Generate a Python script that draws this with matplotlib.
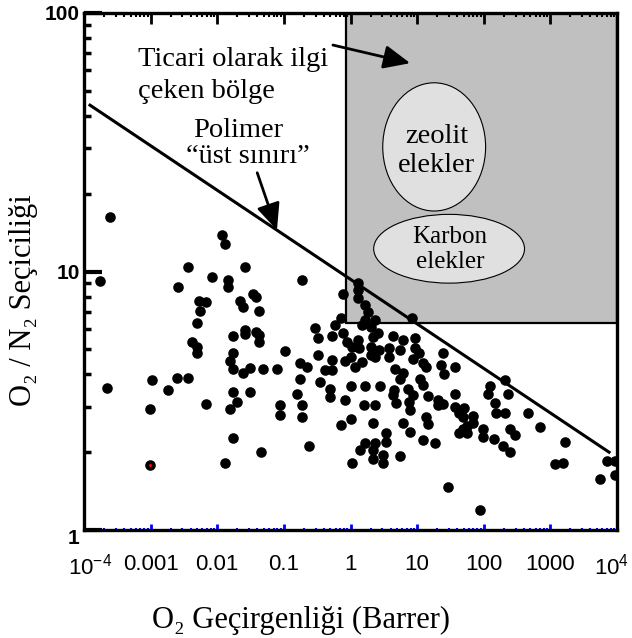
import matplotlib.pyplot as plt
import numpy as np
from matplotlib.patches import Rectangle, Ellipse
from matplotlib.transforms import ScaledTranslation

plt.rcParams['mathtext.fontset'] = 'custom'
plt.rcParams['mathtext.rm'] = 'Liberation Sans'
plt.rcParams['mathtext.it'] = 'Liberation Sans:italic'

# O2 permeability (Barrer) and O2/N2 selectivity
perm = [
    2.45e-4, 1.74e-4, 2.2e-4, 9.8e-4, 0.00105, 0.00183, 0.0025, 0.0037, 0.0067,
    0.0026, 0.0037, 0.0084, 0.0119, 0.0132, 0.0264, 0.0144, 0.0144,
    0.0054, 0.0068, 0.0055, 0.005, 0.0222, 0.0242, 0.0342, 0.0379, 0.0429,
    0.0042, 0.005, 0.005, 0.0175, 0.0264, 0.0264, 0.0379, 0.0429, 0.0429,
    0.0171, 0.0157, 0.0175, 0.0242, 0.0308, 0.049, 0.0171, 0.0308, 0.02,
    0.0157, 0.0171, 0.046, 0.0132,
    0.19, 0.77, 1.3, 1.3, 1.3, 1.65, 1.8, 0.71, 1.65, 2.3, 8.5, 0.59, 1.51,
    2.0, 0.29, 0.77, 0.536, 0.324, 2.6, 2.14, 4.28, 6.05, 9.16, 0.9, 1.3,
    1.07, 1.32, 2.0, 2.64, 3.72, 5.55, 2.0, 2.3, 3.72, 9.16, 10.5, 8.55,
    24.2, 0.105, 0.324, 0.536, 1.0, 0.84, 1.51, 0.174, 0.225, 0.08, 0.42,
    0.536, 1.15, 4.59, 6.05, 12.1, 13.4, 22.6, 5.46, 25.0, 0.174, 0.354,
    10.9, 12.1, 1.0, 1.65, 2.73, 0.5, 0.5, 4.43, 7.2, 4.28, 8.55, 14.4,
    4.75, 7.45, 0.16, 0.84, 20.3, 20.7, 0.0885, 0.19, 1.62, 2.3, 7.7,
    0.0885, 0.19, 1.0, 0.71, 2.14, 6.05, 13.4, 14.4, 7.7, 3.36, 3.36, 1.65,
    2.3, 12.1, 18.3, 0.24, 1.41, 2.14, 3.03, 2.14, 3.03, 1.07, 5.46,
    36.6, 211, 123, 115, 230, 36.6, 24.2, 36.6, 50, 42, 48, 68, 150, 154,
    211, 459, 57, 70, 49, 42, 57, 98, 97, 141, 246, 292, 695, 193, 246,
    1650, 1170, 1540, 7080, 9330, 5550, 9330, 28.8, 87,
]
sel = [
    16.3, 9.15, 3.55, 2.94, 3.81, 3.49, 3.88, 3.88, 3.08,
    8.7, 10.4, 9.5, 13.8, 12.8, 10.4, 9.3, 8.7,
    7.7, 7.6, 7.06, 6.3, 7.7, 7.3, 8.15, 8.0, 7.06,
    5.35, 5.12, 4.85, 5.65, 5.96, 5.75, 5.85, 5.7, 5.35,
    4.85, 4.52, 4.2, 4.06, 4.25, 4.2, 3.43, 3.43, 3.13,
    2.94, 2.27, 2.0, 1.82,
    9.3, 8.2, 9.06, 8.5, 7.93, 7.45, 7.0, 6.63, 6.52, 6.52, 6.58, 6.23, 6.23,
    6.12, 6.06, 5.8, 5.65, 5.55, 5.8, 5.6, 5.65, 5.45, 5.55, 5.35, 5.45,
    5.12, 5.08, 5.12, 4.98, 5.08, 4.98, 4.77, 4.68, 4.68, 5.08, 4.85, 4.6,
    4.85, 4.94, 4.77, 4.56, 4.68, 4.52, 4.48, 4.44, 4.28, 4.2, 4.17,
    4.17, 4.28, 4.2, 4.06, 4.44, 4.28, 4.36, 3.85, 4.0, 3.85, 3.75,
    3.85, 3.65, 3.61, 3.61, 3.61, 3.52, 3.28, 3.49, 3.52, 3.34, 3.34, 3.31,
    3.1, 3.13, 3.37, 3.19, 3.19, 3.05, 3.05, 3.05, 3.05, 3.05, 2.92,
    2.79, 2.74, 2.69, 2.55, 2.6, 2.6, 2.74, 2.58, 2.4, 2.38, 2.19, 2.17,
    2.17, 2.23, 2.17, 2.12, 2.04, 2.04, 1.95, 1.88, 1.82, 1.82, 1.94,
    4.28, 3.81, 3.61, 3.37, 3.37, 3.37, 3.08, 3.0, 2.97, 2.84, 2.74, 2.77, 3.1, 2.84,
    2.84, 2.84, 2.53, 2.6, 2.46, 2.38, 2.38, 2.46, 2.29, 2.25, 2.46, 2.33, 2.51, 2.12, 2.0,
    2.19, 1.8, 1.82, 1.85, 1.85, 1.58, 1.63, 1.47, 1.19,
]
# the one point with a red centre
red_perm = [9.8e-4]
red_sel = [1.79]

# polymer upper bound
bound_perm = [1.23e-4, 7600]
bound_sel = [44, 2.0]

# commercially attractive region
box_perm = [0.87, 1e4]
box_sel = [6.3, 100]

xticks = [1e-4, 1e-3, 1e-2, 1e-1, 1, 10, 100, 1000, 1e4]
xtick_labels = ['10$^{-4}$', '0.001', '0.01', '0.1', '1', '10', '100', '1000', '10$^{4}$']
yticks = [1, 10, 100]
ytick_labels = ['1', '10', '100']

serif = ['Liberation Serif', 'DejaVu Serif']

fig = plt.figure(figsize=(6.32, 6.38), dpi=100)
ax = fig.add_axes([84 / 632, 108 / 638, 533 / 632, 517 / 638])
ax.set_xscale('log')
ax.set_yscale('log')
ax.set_xlim(1e-4, 1e4)
ax.set_ylim(1, 100)

ax.add_patch(Rectangle((box_perm[0], box_sel[0]), box_perm[1] - box_perm[0],
                       box_sel[1] - box_sel[0], facecolor='#c0c0c0',
                       edgecolor='black', lw=1.6, zorder=1))

# ellipses in axes fraction so they stay round on log axes
ax.add_patch(Ellipse((0.657, 0.741), 0.193, 0.248, transform=ax.transAxes,
                     facecolor='#e0e0e0', edgecolor='black', lw=0.8, zorder=2))
ax.add_patch(Ellipse((0.685, 0.544), 0.283, 0.133, transform=ax.transAxes,
                     facecolor='#e0e0e0', edgecolor='black', lw=0.8, zorder=2))

ax.plot(bound_perm, bound_sel, color='black', lw=2.2, zorder=3)
ax.scatter(perm, sel, s=58, color='black', zorder=4, linewidths=0)
ax.scatter(red_perm, red_sel, s=58, color='black', zorder=4, linewidths=0)
ax.scatter(red_perm, red_sel, s=5, color='red', zorder=5, linewidths=0)

# text
ax.text(0.101, 0.897, 'Ticari olarak ilgi', transform=ax.transAxes, fontsize=20.5,
        family=serif, ha='left', va='baseline')
ax.text(0.101, 0.836, 'çeken bölge', transform=ax.transAxes, fontsize=20.5,
        family=serif, ha='left', va='baseline')
ax.text(0.289, 0.760, 'Polimer', transform=ax.transAxes, fontsize=20.5,
        family=serif, ha='center', va='baseline')
ax.text(0.308, 0.710, '\u201c\u00fcst s\u0131n\u0131r\u0131\u201d', transform=ax.transAxes,
        fontsize=20.5, family=serif, ha='center', va='baseline')
ax.text(0.662, 0.749, 'zeolit', transform=ax.transAxes, fontsize=20.5,
        family=serif, ha='center', va='baseline', zorder=6)
ax.text(0.662, 0.692, 'elekler', transform=ax.transAxes, fontsize=20.5,
        family=serif, ha='center', va='baseline', zorder=6)
ax.text(0.687, 0.555, 'Karbon', transform=ax.transAxes, fontsize=18,
        family=serif, ha='center', va='baseline', zorder=6)
ax.text(0.687, 0.507, 'elekler', transform=ax.transAxes, fontsize=18,
        family=serif, ha='center', va='baseline', zorder=6)

arrow = dict(arrowstyle='-|>,head_length=0.9,head_width=0.4', mutation_scale=18,
             lw=2, color='black', shrinkA=0, shrinkB=0)
ax.annotate('', xy=(0.612, 0.903), xytext=(0.467, 0.938), xycoords='axes fraction',
            textcoords='axes fraction', arrowprops=arrow, zorder=6)
ax.annotate('', xy=(0.362, 0.580), xytext=(0.325, 0.691), xycoords='axes fraction',
            textcoords='axes fraction', arrowprops=arrow, zorder=6)

# axes styling
for side in ['left', 'right', 'top', 'bottom']:
    ax.spines[side].set_linewidth(2.4)
    ax.spines[side].set_zorder(7)

ax.set_xticks(xticks)
ax.set_xticklabels(xtick_labels, fontsize=16, family='Liberation Sans')
ax.set_xticks([m * 10.0 ** e for e in range(-4, 4) for m in range(2, 10)], minor=True)
ax.set_yticks(yticks)
ax.set_yticklabels(ytick_labels, fontsize=15, family='Liberation Sans', fontweight='bold')
ax.set_yticks([m * 10.0 ** e for e in range(0, 2) for m in range(2, 10)], minor=True)
ax.yaxis.set_minor_formatter(plt.NullFormatter())
ax.xaxis.set_minor_formatter(plt.NullFormatter())

ax.tick_params(axis='x', which='major', direction='in', length=4, width=2,
               color='#0000ff', pad=17, top=False)
ax.tick_params(axis='x', which='minor', direction='in', length=1.5, width=1.5,
               color='#0000ff', top=False)
ax.tick_params(axis='y', which='major', direction='in', length=13, width=3,
               pad=3, right=False)
ax.tick_params(axis='y', which='minor', direction='in', length=5, width=2.5,
               right=False)

# nudge the end labels like the original
lbls = ax.get_xticklabels()
lbls[-1].set_transform(lbls[-1].get_transform() + ScaledTranslation(-5 / 100, 0, fig.dpi_scale_trans))
lbls[0].set_transform(lbls[0].get_transform() + ScaledTranslation(6 / 100, 0, fig.dpi_scale_trans))
ylbls = ax.get_yticklabels()
ylbls[0].set_transform(ylbls[0].get_transform() + ScaledTranslation(0, -6 / 100, fig.dpi_scale_trans))

# black ticks along the top
ax2 = ax.twiny()
ax2.set_xscale('log')
ax2.set_xlim(1e-4, 1e4)
ax2.set_xticks(xticks)
ax2.set_xticks([m * 10.0 ** e for e in range(-4, 4) for m in range(2, 10)], minor=True)
ax2.tick_params(axis='x', which='major', direction='in', length=8, width=2,
                labeltop=False)
ax2.tick_params(axis='x', which='minor', direction='in', length=3, width=1.5)
ax2.xaxis.set_minor_formatter(plt.NullFormatter())
for side in ['left', 'right', 'top', 'bottom']:
    ax2.spines[side].set_visible(False)

fig.text(301 / 632, 1 - 628 / 638, 'O\u2082 Geçirgenliği (Barrer)', fontsize=22,
         family=serif, ha='center', va='baseline')
fig.text(24 / 632, 1 - 300 / 638, 'O\u2082 / N\u2082 Seçiciliği', fontsize=22,
         family=serif, ha='center', va='center', rotation=90)

fig.savefig('out.png', dpi=100)
